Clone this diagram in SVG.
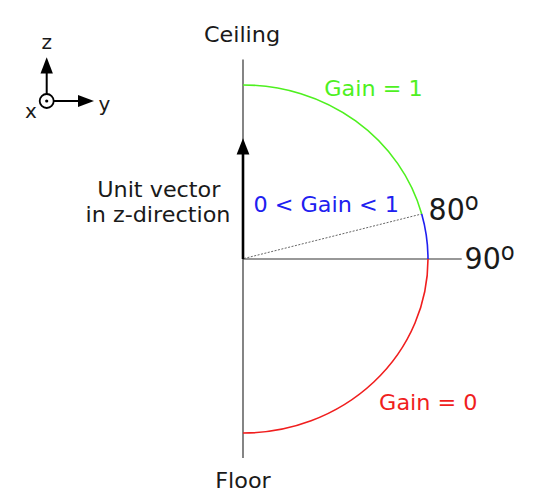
<svg xmlns="http://www.w3.org/2000/svg" width="535" height="503" viewBox="0 0 535 503">
  <style>
    text { font-family: "DejaVu Sans", "Liberation Sans", sans-serif; fill: #1a1a1a; }
    .lbl { font-size: 21px; text-anchor: middle; }
    .ax { font-size: 20px; text-anchor: middle; }
    .deg { font-size: 30px; }
    .sup { font-size: 24px; }
    .axis { stroke: #333333; stroke-width: 1.2; fill: none; }
    .arc { fill: none; stroke-width: 1.6; }
  </style>
  <rect width="535" height="503" fill="#ffffff"/>

  <g id="coord-icon">
    <line x1="46.7" y1="94" x2="46.7" y2="72" stroke="#000" stroke-width="2"/>
    <polygon points="46.7,57.3 40.5,73.5 52.9,73.5" fill="#000"/>
    <line x1="54" y1="101" x2="80" y2="101" stroke="#000" stroke-width="2"/>
    <polygon points="94,101 78,95 78,107" fill="#000"/>
    <circle cx="46.7" cy="101" r="7" fill="none" stroke="#000" stroke-width="1.8"/>
    <circle cx="46.7" cy="101" r="1.6" fill="#000"/>
    <text class="ax" x="46.7" y="49.3">z</text>
    <text class="ax" x="104.3" y="110.7">y</text>
    <text class="ax" x="31" y="118.3">x</text>
  </g>

  <g id="connectors">
    <line id="vertical-axis" class="axis" x1="243" y1="59.5" x2="243" y2="458"/>
    <line id="horizontal-axis" class="axis" x1="243" y1="259" x2="461.7" y2="259"/>
    <line id="dotted-80" x1="244" y1="258.5" x2="421.7" y2="213.97" stroke="#666" stroke-width="1" stroke-dasharray="2,1.5"/>
    <path id="arc-green" class="arc" stroke="#4ef01f" d="M243,85 A185,174 0 0 1 421.7,213.97"/>
    <path id="arc-blue" class="arc" stroke="#2020f0" d="M421.7,213.97 A185,174 0 0 1 428,259"/>
    <path id="arc-red" class="arc" stroke="#f01e1e" d="M428,259 A185,174 0 0 1 243,433"/>
    <line id="unit-vector" x1="243" y1="259" x2="243" y2="152" stroke="#000" stroke-width="2.6"/>
    <polygon points="243,138.3 236.6,154.5 249.4,154.5" fill="#000"/>
  </g>

  <g id="ceiling"><text class="lbl" transform="translate(242,42) scale(1.063,1)">Ceiling</text></g>
  <g id="floor"><text class="lbl" transform="translate(243,488) scale(1.063,1)">Floor</text></g>
  <g id="unit-vector-label">
    <text class="lbl" transform="translate(158.8,196.7) scale(1.063,1)">Unit vector</text>
    <text class="lbl" transform="translate(158,221.7) scale(1.063,1)">in z-direction</text>
  </g>
  <g id="gain-1"><text class="lbl" style="fill:#4ef01f" transform="translate(373.5,95.7) scale(1.063,1)">Gain = 1</text></g>
  <g id="gain-mid"><text class="lbl" style="fill:#2020f0" transform="translate(326.2,212.3) scale(1.063,1)">0 &lt; Gain &lt; 1</text></g>
  <g id="gain-0"><text class="lbl" style="fill:#f01e1e" transform="translate(428.3,410) scale(1.063,1)">Gain = 0</text></g>
  <g id="angle-80">
    <text class="deg" transform="translate(428.5,219.5) scale(0.95,1)">80<tspan class="sup" dy="-9.5">o</tspan></text>
  </g>
  <g id="angle-90">
    <text class="deg" transform="translate(464.5,269) scale(0.95,1)">90<tspan class="sup" dy="-9.5">o</tspan></text>
  </g>
</svg>
